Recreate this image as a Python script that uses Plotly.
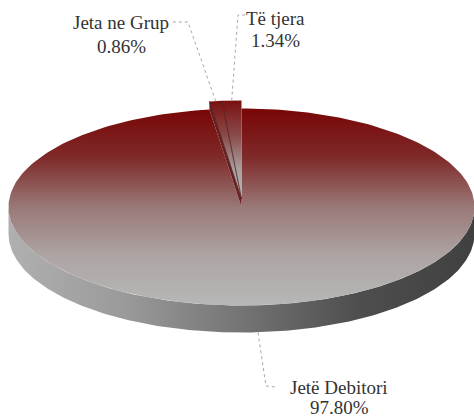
import numpy as np
import plotly.graph_objects as go

labels = ["Jetë Debitori", "Jeta ne Grup", "Të tjera"]
values = [97.80, 0.86, 1.34]
percent_labels = ["97.80%", "0.86%", "1.34%"]

W, H = 474, 417
CX, CY, A, B = 241.5, 207.0, 233.0, 98.5
DEPTH = 27.0
EXPLODE = [0.0, 8.0, 8.0]
# colour stops run bottom (0) to top (1) of each shape because the y axis is flipped
TOP_SCALE = [[0, "#b7b7b7"], [0.25, "#ada5a3"], [0.5, "#9a7878"], [0.75, "#7f2a2a"], [1, "#780606"]]
WEDGE_SCALE = [[0, "#b5b5b5"], [0.3, "#a8a0a0"], [0.65, "#8a4a4a"], [1, "#7a1010"]]
WALL_SCALE = [[0, "#b0b0b0"], [0.25, "#9a9a9a"], [0.5, "#747474"], [0.75, "#4e4e4e"], [1, "#404040"]]
LABEL_POS = [(339, 387, 407), (121, 22, 46), (275, 18, 40)]
ELBOWS = [[(266, 386), (276, 387)], [(188, 22), (172, 22)], [(238, 15), (248, 15)]]


def pt(t, dy=0.0):
    return CX + A * np.sin(t), CY - B * np.cos(t) + dy


fig = go.Figure()
fracs = np.array(values) / sum(values)
edges = np.concatenate([[0], np.cumsum(fracs)]) * 2 * np.pi

# side wall (front half of the disc)
t = np.linspace(np.pi / 2, 3 * np.pi / 2, 240)
xu, yu = pt(t)
xl, yl = pt(t[::-1], DEPTH)
fig.add_trace(go.Scatter(
    x=np.concatenate([xu, xl]), y=np.concatenate([yu, yl]),
    mode="lines", line=dict(width=0), fill="toself",
    fillgradient=dict(type="horizontal", colorscale=WALL_SCALE),
    hoverinfo="skip", showlegend=False))

# main slice
t = np.linspace(edges[0], edges[1], 300)
ex, ey = pt(t)
fig.add_trace(go.Scatter(
    x=np.concatenate([[CX], ex, [CX]]), y=np.concatenate([[CY], ey, [CY]]),
    mode="lines", line=dict(width=0), fill="toself",
    fillgradient=dict(type="vertical", colorscale=TOP_SCALE),
    name=labels[0], hoverinfo="name", showlegend=False))

# inner wall revealed by the lifted wedges
t0 = edges[1]
dy = -EXPLODE[1]
x0, y0 = pt(t0)
x1, y1 = pt(t0, dy)
fig.add_trace(go.Scatter(
    x=[CX, x0, x1, CX, CX], y=[CY, y0, y1, CY + dy, CY], mode="lines",
    line=dict(width=0), fill="toself", fillcolor="#6a2020",
    hoverinfo="skip", showlegend=False))

mids = [None]
for i in (1, 2):
    t = np.linspace(edges[i], edges[i + 1], 16)
    dy = -EXPLODE[i]
    ex, ey = pt(t, dy)
    ax, ay = CX, CY + dy
    fig.add_trace(go.Scatter(
        x=np.concatenate([[ax], ex, [ax]]), y=np.concatenate([[ay], ey, [ay]]),
        mode="lines", line=dict(width=0), fill="toself",
        fillgradient=dict(type="vertical", colorscale=WEDGE_SCALE),
        name=labels[i], hoverinfo="name", showlegend=False))
    fig.add_trace(go.Scatter(
        x=[ex[0], ax], y=[ey[0], ay], mode="lines",
        line=dict(color="#4a1010", width=0.8), hoverinfo="skip", showlegend=False))
    m = (edges[i] + edges[i + 1]) / 2
    mids.append(pt(m, dy))

# leader lines and labels
for i, lab in enumerate(labels):
    start = (258, CY + B + DEPTH) if i == 0 else mids[i]
    xs = [start[0]] + [p[0] for p in ELBOWS[i]]
    ys = [start[1]] + [p[1] for p in ELBOWS[i]]
    fig.add_trace(go.Scatter(x=xs, y=ys, mode="lines",
                             line=dict(color="#a8a8a8", width=1, dash="dot"),
                             hoverinfo="skip", showlegend=False))
    lx, ly1, ly2 = LABEL_POS[i]
    for txt, ly in ((lab, ly1), (percent_labels[i], ly2)):
        fig.add_annotation(x=lx, y=ly, text=txt, showarrow=False,
                           xanchor="center", yanchor="middle",
                           font=dict(family="Liberation Serif", size=19, color="#333333"))

fig.update_xaxes(range=[0, W], visible=False, fixedrange=True)
fig.update_yaxes(range=[H, 0], visible=False, fixedrange=True)
fig.update_layout(width=W, height=H, margin=dict(l=0, r=0, t=0, b=0),
                  paper_bgcolor="white", plot_bgcolor="white", showlegend=False)
fig.write_html("out.html", config={"displayModeBar": False},
               post_script="document.body.style.margin='0';document.documentElement.style.overflow='hidden';")
